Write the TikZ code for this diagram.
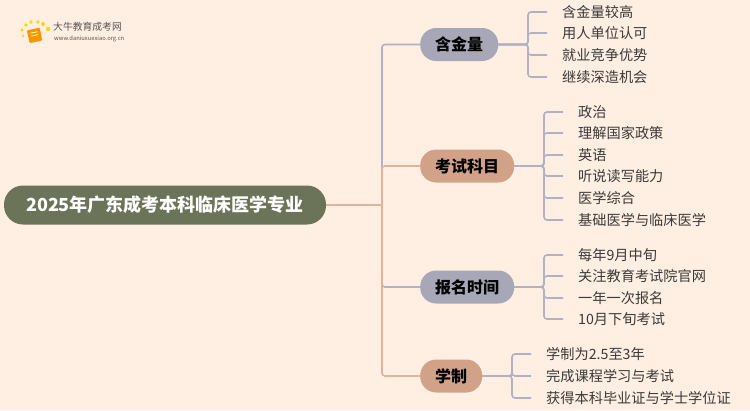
\documentclass[tikz,border=0pt]{standalone}
\usepackage{fontspec}
\setmainfont{Noto Sans CJK SC}
\usetikzlibrary{positioning}
\definecolor{paper}{HTML}{FFEFE2}
\definecolor{rootfill}{HTML}{6B7358}
\definecolor{greyfill}{HTML}{A7A7B7}
\definecolor{tanfill}{HTML}{D2A288}
\definecolor{greyline}{HTML}{B1B1C4}
\definecolor{tanline}{HTML}{E0B49B}
\definecolor{leaftext}{HTML}{3A3A3A}
\definecolor{logotext}{HTML}{555555}

\begin{document}
\begin{tikzpicture}[x=1pt,y=-1pt,
 root/.style={rounded corners=19pt,minimum width=322pt,minimum height=39pt,fill=rootfill,text=white,font=\fontsize{18}{20}\selectfont\bfseries,inner sep=0pt},
 topic/.style={rounded corners=16pt,minimum height=33pt,inner sep=0pt,anchor=west,text=black,font=\fontsize{16}{18}\selectfont\bfseries},
 leaf/.style={anchor=west,inner ysep=0pt,inner xsep=15pt,text height=11.5pt,text depth=1pt,text=leaftext,font=\fontsize{14.2}{16}\selectfont},
 link/.style={line width=1.6pt,rounded corners=3pt}]
\fill[paper] (0,0) rectangle (750,410);
% logo
\fill[orange!85!yellow,rotate around={12:(34,35)},rounded corners=1pt] (28,29) rectangle (41,42);
\fill[yellow!40!white,rotate around={12:(34,35)}] (31,32) rectangle (38,33) (31,35) rectangle (38,36);
\foreach \x/\y/\r in {23/36/1.3,22/30/1.6,26/25/1.8,31/22/1.8,38/22/1.9,43/24/2,48/29/2.2}
 \fill[yellow!75!orange] (\x,\y) circle (\r);
\node[inner sep=0pt,anchor=west,text=logotext,font=\fontsize{9.8}{11}\selectfont] (logoname) at (53,27) {大牛教育成考网};
\node[inner sep=0pt,anchor=west,text=logotext,font=\fontsize{5.8}{7}\selectfont] (logosite) at (54,39) {www.daniuxuexiao.org.cn};
% center and topics
\node[root] (root) at (165,205) {2025年广东成考本科临床医学专业};
\node[topic,fill=greyfill,minimum width=78pt] (value) at (420,44.5) {含金量};
\node[topic,fill=tanfill,minimum width=94pt] (exam) at (420,166) {考试科目};
\node[topic,fill=greyfill,minimum width=94pt] (signup) at (420,287) {报名时间};
\node[topic,fill=tanfill,minimum width=62pt] (length) at (420,376) {学制};
\coordinate (fork) at (382,205);
\draw[link,greyline] (fork) |- (value.west);
\draw[link,greyline] (fork) |- (signup.west);
\draw[link,tanline] (fork) |- (exam.west);
\draw[link,tanline] (fork) |- (length.west);
\draw[link,tanline] (root.east) -- (fork);
% leaves
\foreach \name/\y/\txt in {v1/12/含金量较高,v2/33/用人单位认可,v3/55/就业竞争优势,v4/77/继续深造机会}
 {\node[leaf] (\name) at (547,\y) {\txt};
  \draw[link,greyline] (value.east) -- (528,44.5) |- (\name.west);}
\foreach \name/\y/\txt in {e1/112/政治,e2/133/理解国家政策,e3/155/英语,e4/176/听说读写能力,e5/198/医学综合,e6/220/基础医学与临床医学}
 {\node[leaf] (\name) at (563,\y) {\txt};
  \draw[link,greyline] (exam.east) -- (544,166) |- (\name.west);}
\foreach \name/\y/\txt in {s1/255/每年9月中旬,s2/276/关注教育考试院官网,s3/298/一年一次报名,s4/319/10月下旬考试}
 {\node[leaf] (\name) at (563,\y) {\txt};
  \draw[link,greyline] (signup.east) -- (544,287) |- (\name.west);}
\foreach \name/\y/\txt in {l1/354/学制为2.5至3年,l2/376/完成课程学习与考试,l3/398/获得本科毕业证与学士学位证}
 {\node[leaf] (\name) at (531,\y) {\txt};
  \draw[link,greyline] (length.east) -- (512,376) |- (\name.west);}
\end{tikzpicture}
\end{document}
